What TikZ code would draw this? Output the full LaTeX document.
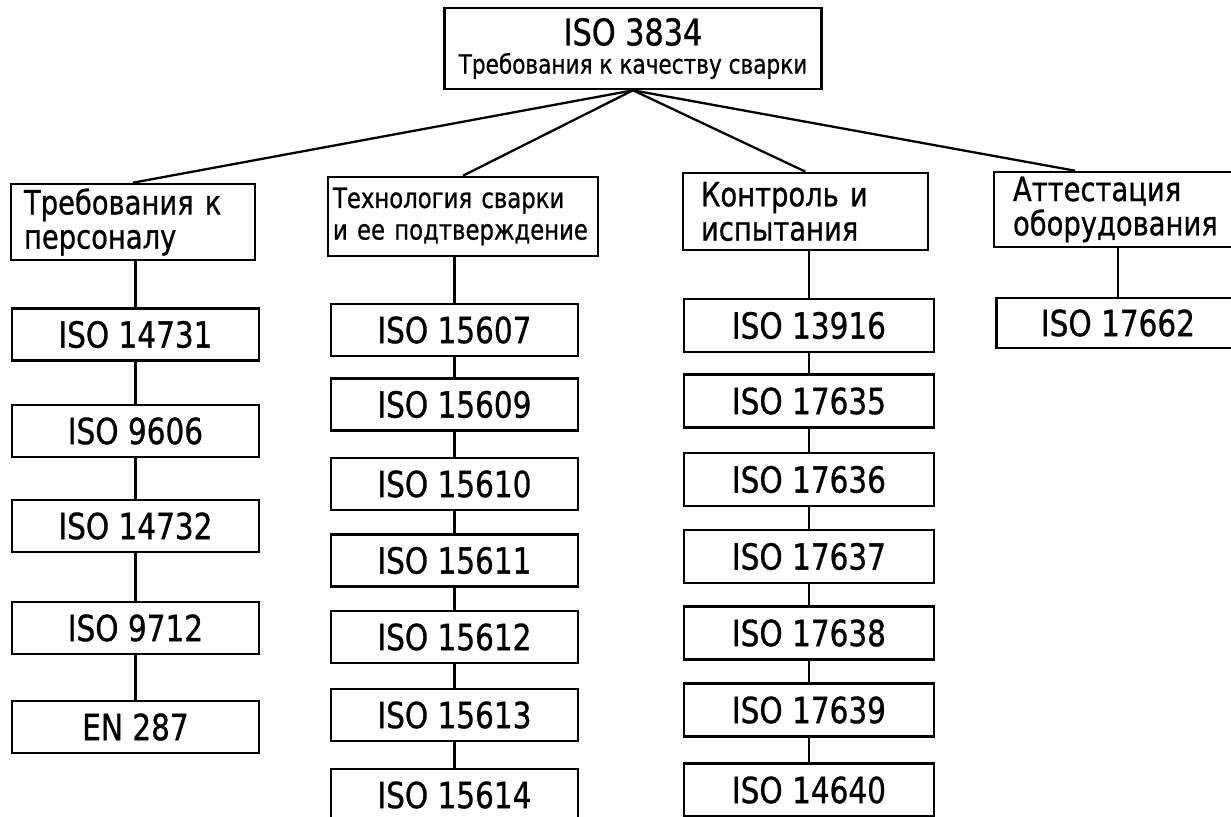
\documentclass[tikz,border=0pt]{standalone}
\usepackage{fontspec}
\setmainfont{DejaVu Sans}[FakeStretch=0.82, FakeBold=0.8]
\usetikzlibrary{positioning}
\tikzset{
  isobox/.style={draw, line width=1.5pt, minimum width=4.94cm, minimum height=1.04cm, inner sep=0pt, font=\fontsize{20.5}{21}\selectfont},
  hdr/.style={draw, line width=1.5pt, align=left, inner ysep=0pt, font=\fontsize{19}{19.5}\selectfont},
  link/.style={line width=1.3pt},
}

\begin{document}
\begin{tikzpicture}[x=0.02cm, y=-0.02cm]
\useasboundingbox (0,0) rectangle (1231,816);
% top
\node[draw, line width=1.5pt, minimum width=7.54cm, minimum height=1.62cm, align=center, inner sep=0pt] (top) at (633,48.5)
  {{\fontsize{21}{22}\selectfont ISO 3834}\\[4pt]{\fontsize{15}{16}\selectfont Требования к качеству сварки}};
% headers
\node[hdr, minimum width=4.88cm, minimum height=1.52cm, text width=4.36cm, inner xsep=0.26cm] (h1) at (133,222) {Требования к\\персоналу};
\node[hdr, minimum width=5.40cm, minimum height=1.58cm, text width=5.20cm, inner xsep=0.10cm, font=\fontsize{15.8}{18}\selectfont] (h2) at (463,216.5) {Технология сварки\\и ее подтверждение};
\node[hdr, minimum width=4.90cm, minimum height=1.54cm, text width=4.18cm, inner xsep=0.36cm] (h3) at (805.5,211.5) {Контроль и\\испытания};
\node[hdr, minimum width=4.92cm, minimum height=1.50cm, text width=4.16cm, inner xsep=0.38cm] (h4) at (1117,209.5) {Аттестация\\оборудования};
\draw[link] (top.south) -- (h1.north);
\draw[link] (top.south) -- (h2.north);
\draw[link] (top.south) -- (h3.north);
\draw[link] (top.south) -- ([xshift=-0.84cm]h4.north);
% personnel
\node[isobox] (b11) at (135.5,334.5) {ISO 14731};
\node[isobox] (b12) at (135.5,431) {ISO 9606};
\node[isobox] (b13) at (135.5,526) {ISO 14732};
\node[isobox] (b14) at (135.5,628) {ISO 9712};
\node[isobox] (b15) at (135.5,727) {EN 287};
\draw[link] (h1.south -| b11.north) -- (b11.north) (b11.south) -- (b12.north) (b12.south) -- (b13.north)
  (b13.south) -- (b14.north) (b14.south) -- (b15.north);
% welding procedure
\node[isobox] (b21) at (454.5,330) {ISO 15607};
\node[isobox] (b22) at (454.5,404.5) {ISO 15609};
\node[isobox] (b23) at (454.5,484) {ISO 15610};
\node[isobox] (b24) at (454.5,560.5) {ISO 15611};
\node[isobox] (b25) at (454.5,637) {ISO 15612};
\node[isobox] (b26) at (454.5,715) {ISO 15613};
\node[isobox] (b27) at (454.5,795) {ISO 15614};
\draw[link] (h2.south -| b21.north) -- (b21.north) (b21.south) -- (b22.north) (b22.south) -- (b23.north)
  (b23.south) -- (b24.north) (b24.south) -- (b25.north) (b25.south) -- (b26.north) (b26.south) -- (b27.north);
% testing
\node[isobox, minimum width=5cm, minimum height=1.06cm] (b31) at (809,325.5) {ISO 13916};
\node[isobox, minimum width=5cm, minimum height=1.06cm] (b32) at (809,401) {ISO 17635};
\node[isobox, minimum width=5cm, minimum height=1.06cm] (b33) at (809,479.5) {ISO 17636};
\node[isobox, minimum width=5cm, minimum height=1.06cm] (b34) at (809,556.5) {ISO 17637};
\node[isobox, minimum width=5cm, minimum height=1.06cm] (b35) at (809,633) {ISO 17638};
\node[isobox, minimum width=5cm, minimum height=1.06cm] (b36) at (809,710) {ISO 17639};
\node[isobox, minimum width=5cm, minimum height=1.06cm] (b37) at (809,790) {ISO 14640};
\draw[link] (h3.south -| b31.north) -- (b31.north) (b31.south) -- (b32.north) (b32.south) -- (b33.north)
  (b33.south) -- (b34.north) (b34.south) -- (b35.north) (b35.south) -- (b36.north) (b36.south) -- (b37.north);
% equipment
\node[isobox, minimum width=4.86cm, minimum height=1cm] (b41) at (1118,323) {ISO 17662};
\draw[link] (h4.south -| b41.north) -- (b41.north);
\end{tikzpicture}
\end{document}
